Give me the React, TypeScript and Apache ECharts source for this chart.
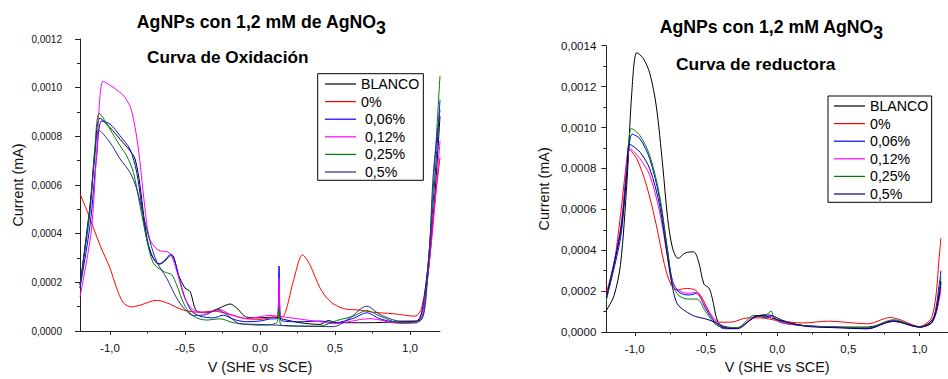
import { useEffect, useRef } from 'react';
import * as echarts from 'echarts';

const FONT = "'Liberation Sans', Arial, Helvetica, sans-serif";

// Series names (left panel labels carry a leading space, as printed in its legend)
const NAMES_OX = ['BLANCO', '0%', ' 0,06%', ' 0,12%', ' 0,25%', ' 0,5%'];
const NAMES_RED = ['BLANCO', '0%', '0,06%', '0,12%', '0,25%', '0,5%'];
const COLORS_OX = ['#000000', '#ff0000', '#0000ff', '#ff00ff', '#008000', '#2a2a8c'];
const COLORS_RED = ['#000000', '#ff0000', '#0000ff', '#ff00ff', '#008000', '#000080'];

const X_TICKS = [-1, -0.5, 0, 0.5, 1];
const X_MINOR_TICKS = [-0.75, -0.25, 0.25, 0.75];

// ---- Oxidation curves: [V (SHE vs SCE), current (mA)] ----
const OX_BLANCO = [
  [-1.2, 0.00019], [-1.133, 0.000516], [-1.1, 0.000747], [-1.067, 0.000874], [-1.0, 0.000836],
  [-0.933, 0.000788], [-0.867, 0.000741], [-0.833, 0.000707], [-0.8, 0.000598], [-0.767, 0.000435],
  [-0.733, 0.000326], [-0.689, 0.000279], [-0.667, 0.000275], [-0.589, 0.000313], [-0.544, 0.000231],
  [-0.5, 0.000177], [-0.467, 0.000163], [-0.422, 0.000082], [-0.356, 0.000075], [-0.267, 0.000095],
  [-0.2, 0.000111], [-0.156, 0.000095], [-0.089, 0.000057], [0, 0.000054], [0.089, 0.000057],
  [0.156, 0.000048], [0.267, 0.000034], [0.4, 0.000027], [0.456, 0.000043], [0.511, 0.000034],
  [0.711, 0.000034], [0.933, 0.000038], [1.044, 0.000041], [1.1, 0.000136], [1.156, 0.000476],
  [1.2, 0.000883],
];
const OX_0 = [
  [-1.2, 0.000564], [-1.133, 0.000462], [-1.067, 0.000353], [-1.0, 0.000258], [-0.956, 0.000177],
  [-0.911, 0.000116], [-0.856, 0.000099], [-0.8, 0.000106], [-0.689, 0.000126], [-0.622, 0.000116],
  [-0.511, 0.000086], [-0.4, 0.000077], [-0.311, 0.000082], [-0.2, 0.000068], [-0.089, 0.00005],
  [0, 0.000048], [0.089, 0.000057], [0.122, 0.000058], [0.156, 0.000061], [0.222, 0.000204],
  [0.284, 0.000313], [0.333, 0.000272], [0.4, 0.000177], [0.467, 0.000122], [0.556, 0.000092],
  [0.667, 0.000086], [0.756, 0.000077], [0.889, 0.000071], [1.033, 0.000061], [1.078, 0.000095],
  [1.122, 0.000272], [1.156, 0.000476], [1.2, 0.000713],
];
const OX_006 = [
  [-1.2, 0.000177], [-1.133, 0.000435], [-1.089, 0.00072], [-1.056, 0.000863], [-1.0, 0.00085],
  [-0.933, 0.000802], [-0.867, 0.000747], [-0.822, 0.000652], [-0.789, 0.000516], [-0.756, 0.00038],
  [-0.711, 0.000299], [-0.671, 0.000276], [-0.633, 0.000292], [-0.596, 0.000315], [-0.567, 0.000285],
  [-0.533, 0.000204], [-0.5, 0.000136], [-0.456, 0.000082], [-0.4, 0.000061], [-0.311, 0.000054],
  [-0.244, 0.000065], [-0.178, 0.000048], [-0.089, 0.000038], [0, 0.000041], [0.078, 0.00005],
  [0.115, 0.00005], [0.127, 0.000267], [0.138, 0.000045], [0.267, 0.000038], [0.4, 0.000041],
  [0.5, 0.000034], [0.622, 0.000052], [0.711, 0.000075], [0.8, 0.00005], [0.933, 0.000034],
  [1.044, 0.000034], [1.1, 0.000163], [1.156, 0.000544], [1.2, 0.00095],
];
const OX_012 = [
  [-1.2, 0.00014], [-1.125, 0.00041], [-1.091, 0.00071], [-1.047, 0.001026], [-1.0, 0.00101],
  [-0.936, 0.000982], [-0.9, 0.00096], [-0.858, 0.00091], [-0.813, 0.00076], [-0.769, 0.000516],
  [-0.736, 0.00038], [-0.68, 0.000333], [-0.602, 0.00032], [-0.547, 0.00023], [-0.502, 0.000136],
  [-0.447, 0.000088], [-0.35, 0.000075], [-0.267, 0.000088], [-0.2, 0.000068], [-0.089, 0.000051],
  [0.067, 0.000064], [0.115, 0.000062], [0.127, 0.000217], [0.138, 0.00006], [0.167, 0.000057],
  [0.4, 0.000038], [0.489, 0.00003], [0.733, 0.000051], [0.933, 0.000031], [1.056, 0.000038],
  [1.1, 0.000136], [1.156, 0.00045], [1.2, 0.00078],
];
const OX_025 = [
  [-1.2, 0.00019], [-1.133, 0.000489], [-1.1, 0.000761], [-1.071, 0.000894], [-1.0, 0.000829],
  [-0.933, 0.000761], [-0.889, 0.00072], [-0.844, 0.000652], [-0.8, 0.000516], [-0.756, 0.00038],
  [-0.711, 0.000279], [-0.644, 0.000245], [-0.589, 0.000231], [-0.556, 0.00019], [-0.5, 0.000102],
  [-0.444, 0.000061], [-0.356, 0.000045], [-0.267, 0.00005], [-0.178, 0.000034], [-0.089, 0.000027],
  [0, 0.000024], [0.111, 0.000034], [0.127, 0.000095], [0.14, 0.000024], [0.267, 0.00002],
  [0.4, 0.00002], [0.511, 0.000043], [0.622, 0.000061], [0.711, 0.000084], [0.8, 0.000061],
  [0.933, 0.000034], [1.067, 0.000041], [1.111, 0.000204], [1.156, 0.000598], [1.2, 0.001049],
];
const OX_05 = [
  [-1.2, 0.000177], [-1.133, 0.000516], [-1.1, 0.00072], [-1.076, 0.000826], [-1.0, 0.000775],
  [-0.933, 0.000707], [-0.867, 0.000652], [-0.822, 0.000584], [-0.778, 0.000476], [-0.733, 0.000367],
  [-0.689, 0.000285], [-0.622, 0.000217], [-0.556, 0.000136], [-0.5, 0.000088], [-0.444, 0.000064],
  [-0.356, 0.000068], [-0.289, 0.000088], [-0.222, 0.000068], [-0.133, 0.00003], [0, 0.000027],
  [0.111, 0.000024], [0.267, 0.00002], [0.489, 0.000018], [0.6, 0.000054], [0.711, 0.000102],
  [0.8, 0.000068], [0.933, 0.000041], [1.067, 0.000043], [1.122, 0.000272], [1.156, 0.000652],
  [1.2, 0.00091],
];

// ---- Reduction curves: [V (SHE vs SCE), current (mA)] ----
const RED_BLANCO = [
  [-1.2, 0.000105], [-1.146, 0.000177], [-1.1, 0.000331], [-1.055, 0.000734], [-1.021, 0.00117],
  [-0.986, 0.001366], [-0.941, 0.001339], [-0.895, 0.001266], [-0.849, 0.001105], [-0.804, 0.000815],
  [-0.769, 0.000556], [-0.735, 0.000411], [-0.696, 0.00036], [-0.644, 0.000387], [-0.587, 0.000392],
  [-0.553, 0.000347], [-0.514, 0.000234], [-0.479, 0.000215], [-0.457, 0.000169], [-0.416, 0.000048],
  [-0.37, 0.000027], [-0.279, 0.000021], [-0.164, 0.000069], [-0.096, 0.000084], [-0.039, 0.000081],
  [0.041, 0.000056], [0.178, 0.000032], [0.406, 0.000024], [0.635, 0.000024], [0.817, 0.000052],
  [0.863, 0.000048], [1.0, 0.000024], [1.068, 0.000045], [1.114, 0.00009], [1.142, 0.00019],
  [1.15, 0.00024],
];
const RED_0 = [
  [-1.2, 0.000194], [-1.146, 0.000331], [-1.1, 0.000573], [-1.066, 0.000782], [-1.039, 0.000892],
  [-0.986, 0.000847], [-0.918, 0.000718], [-0.849, 0.000524], [-0.792, 0.000331], [-0.747, 0.000234],
  [-0.701, 0.000205], [-0.644, 0.000213], [-0.575, 0.000205], [-0.53, 0.000169], [-0.461, 0.000081],
  [-0.404, 0.000048], [-0.324, 0.000048], [-0.21, 0.000069], [-0.119, 0.000069], [0, 0.000056],
  [0.178, 0.000044], [0.361, 0.000053], [0.635, 0.00004], [0.795, 0.000071], [0.863, 0.00006],
  [1.0, 0.000027], [1.091, 0.000081], [1.142, 0.000395], [1.15, 0.00046],
];
const RED_006 = [
  [-1.2, 0.000161], [-1.1, 0.00046], [-1.055, 0.000782], [-1.018, 0.000968], [-0.963, 0.000944],
  [-0.895, 0.000847], [-0.826, 0.000653], [-0.769, 0.000395], [-0.735, 0.00025], [-0.689, 0.000194],
  [-0.621, 0.000181], [-0.564, 0.000189], [-0.507, 0.000121], [-0.438, 0.000048], [-0.37, 0.000016],
  [-0.279, 0.000019], [-0.187, 0.00006], [-0.142, 0.000081], [-0.073, 0.000069], [-0.039, 0.000081],
  [0.018, 0.000048], [0.178, 0.000032], [0.406, 0.000024], [0.635, 0.000016], [0.817, 0.000056],
  [0.954, 0.000032], [1.0, 0.000024], [1.091, 0.000056], [1.142, 0.00025], [1.15, 0.0003],
];
const RED_012 = [
  [-1.2, 0.000169], [-1.1, 0.000508], [-1.055, 0.000831], [-1.032, 0.000895], [-0.963, 0.000847],
  [-0.895, 0.000766], [-0.826, 0.000589], [-0.769, 0.000363], [-0.735, 0.000242], [-0.689, 0.000202],
  [-0.621, 0.000189], [-0.575, 0.000194], [-0.507, 0.000129], [-0.438, 0.000056], [-0.37, 0.000024],
  [-0.279, 0.000021], [-0.142, 0.000076], [-0.039, 0.000076], [0.018, 0.000048], [0.178, 0.000032],
  [0.406, 0.000024], [0.635, 0.00002], [0.817, 0.000053], [1.0, 0.000024], [1.091, 0.00005],
  [1.142, 0.00017], [1.15, 0.00022],
];
const RED_025 = [
  [-1.2, 0.000153], [-1.1, 0.000492], [-1.055, 0.000798], [-1.023, 0.000995], [-0.963, 0.00096],
  [-0.895, 0.000863], [-0.826, 0.000669], [-0.769, 0.000395], [-0.735, 0.000234], [-0.689, 0.000177],
  [-0.621, 0.000161], [-0.564, 0.000161], [-0.507, 0.000105], [-0.438, 0.00004], [-0.37, 0.000021],
  [-0.279, 0.000021], [-0.164, 0.000081], [-0.096, 0.000073], [-0.043, 0.000102], [-0.016, 0.000065],
  [0.178, 0.000032], [0.406, 0.000024], [0.635, 0.000021], [0.817, 0.00006], [1.0, 0.000024],
  [1.091, 0.00005], [1.142, 0.00022], [1.15, 0.00027],
];
const RED_05 = [
  [-1.2, 0.000169], [-1.1, 0.000492], [-1.055, 0.000782], [-1.037, 0.000918], [-0.963, 0.000879],
  [-0.895, 0.000798], [-0.826, 0.000621], [-0.769, 0.000363], [-0.735, 0.000218], [-0.701, 0.000137],
  [-0.644, 0.000102], [-0.575, 0.000076], [-0.507, 0.000065], [-0.438, 0.000048], [-0.37, 0.000021],
  [-0.279, 0.000016], [-0.164, 0.000073], [-0.096, 0.000081], [-0.039, 0.000068], [0.178, 0.00003],
  [0.406, 0.000021], [0.635, 0.000016], [0.817, 0.000053], [1.0, 0.000024], [1.091, 0.00005],
  [1.142, 0.0002], [1.15, 0.00025],
];

const OX_DATA = [OX_BLANCO, OX_0, OX_006, OX_012, OX_025, OX_05];
const RED_DATA = [RED_BLANCO, RED_0, RED_006, RED_012, RED_025, RED_05];

const TITLE_OX = 'AgNPs con 1,2 mM de AgNO';
const TITLE_RED = 'AgNPs con 1,2 mM AgNO';
const SUBTITLE_OX = 'Curva de Oxidación';
const SUBTITLE_RED = 'Curva de reductora';
const Y_NAME = 'Current (mA)';
const X_NAME = 'V (SHE vs SCE)';

const TEXT = '#111';

const fmtY = (v: number) => v.toFixed(4).replace('.', ',');
const fmtX = (v: number) => v.toFixed(1).replace('.', ',');

function xAxes(gridIndex: number, labelMargin: number, nameGap: number) {
  return [
    {
      type: 'value', gridIndex, min: -1.2, max: 1.2, position: 'bottom',
      name: X_NAME, nameLocation: 'middle', nameGap,
      nameTextStyle: { fontFamily: FONT, fontSize: 14.4, color: TEXT },
      axisLine: { onZero: false, lineStyle: { color: '#222', width: 1 } },
      axisTick: { customValues: X_TICKS, length: 4, lineStyle: { color: '#222' } },
      axisLabel: { customValues: X_TICKS, formatter: fmtX, margin: labelMargin, fontFamily: FONT, fontSize: 11.5, color: TEXT },
      splitLine: { show: false },
    },
    {
      // minor ticks between the labelled ones
      type: 'value', gridIndex, min: -1.2, max: 1.2, position: 'bottom', offset: 0,
      axisLine: { show: false, onZero: false },
      axisTick: { customValues: X_MINOR_TICKS, length: 2.5, lineStyle: { color: '#222' } },
      axisLabel: { show: false },
      splitLine: { show: false },
    },
  ];
}

function yAxis(gridIndex: number, max: number, labelMargin: number, labelSize: number, nameGap: number) {
  return {
    type: 'value', gridIndex, min: 0, max, interval: 0.0002, position: 'left',
    name: Y_NAME, nameLocation: 'middle', nameGap,
    nameTextStyle: { fontFamily: FONT, fontSize: 14.4, color: TEXT },
    axisLine: { show: true, onZero: false, lineStyle: { color: '#222', width: 1 } },
    axisTick: { show: true, length: 5, lineStyle: { color: '#222' } },
    minorTick: { show: true, splitNumber: 2, length: 3, lineStyle: { color: '#222' } },
    axisLabel: { formatter: fmtY, margin: labelMargin, fontFamily: FONT, fontSize: labelSize, color: TEXT },
    splitLine: { show: false },
  };
}

function lineSeries(names: string[], colors: string[], data: number[][][], xAxisIndex: number, yAxisIndex: number) {
  return names.map((name, i) => ({
    type: 'line', name, xAxisIndex, yAxisIndex,
    data: data[i], smooth: 0.3, symbol: 'none',
    lineStyle: { color: colors[i], width: 1 },
    itemStyle: { color: colors[i] },
  }));
}

function titleText(x: number, y: number, text: string, size: number, align: string) {
  return {
    type: 'text', x, y,
    style: {
      text, font: `bold ${size}px ${FONT}`, fill: '#000',
      align, verticalAlign: 'middle', textAlign: align, textVerticalAlign: 'middle',
    },
  };
}

export default function App() {
  const ref = useRef<HTMLDivElement>(null);

  useEffect(() => {
    if (!ref.current) return;
    const chart = echarts.init(ref.current, null, { renderer: 'svg' });

    const legend = (left: number, top: number, names: string[], padding: number[]) => ({
      orient: 'vertical', left, top, data: names,
      icon: 'rect', itemWidth: 31, itemHeight: 1.2, itemGap: 3.6, padding,
      borderColor: '#000', borderWidth: 1, backgroundColor: '#fff',
      textStyle: { fontFamily: FONT, fontSize: 14.2, color: '#000' },
      selectedMode: false,
    });

    chart.setOption({
      animation: false,
      backgroundColor: '#fff',
      grid: [
        { left: 80, top: 39, width: 360, height: 294.3 },
        { left: 606.3, top: 45.7, width: 350.2, height: 289.3 },
      ],
      xAxis: [...xAxes(0, 11, 29), ...xAxes(1, 11, 28)],
      yAxis: [yAxis(0, 0.0012, 18, 10, 55), yAxis(1, 0.0014, 10, 11.5, 55)],
      legend: [
        legend(317.7, 73.7, NAMES_OX, [3.3, 4, 1.3, 7.3]),
        legend(828, 96, NAMES_RED, [3, 3.3, 1.3, 6]),
      ],
      graphic: [
        titleText(376, 22, TITLE_OX, 17.7, 'right'),
        titleText(376, 27.5, '3', 17.7, 'left'),
        titleText(227.7, 56.7, SUBTITLE_OX, 17.2, 'center'),
        titleText(873.3, 27, TITLE_RED, 17.7, 'right'),
        titleText(873.3, 32.5, '3', 17.7, 'left'),
        titleText(755.7, 63.7, SUBTITLE_RED, 17.4, 'center'),
      ],
      series: [
        ...lineSeries(NAMES_OX, COLORS_OX, OX_DATA, 0, 0),
        ...lineSeries(NAMES_RED, COLORS_RED, RED_DATA, 2, 1),
      ],
    });

    return () => chart.dispose();
  }, []);

  return (
    <div
      ref={ref}
      style={{ position: 'fixed', left: 0, top: 0, width: 948, height: 379, background: '#fff', overflow: 'hidden' }}
    />
  );
}
